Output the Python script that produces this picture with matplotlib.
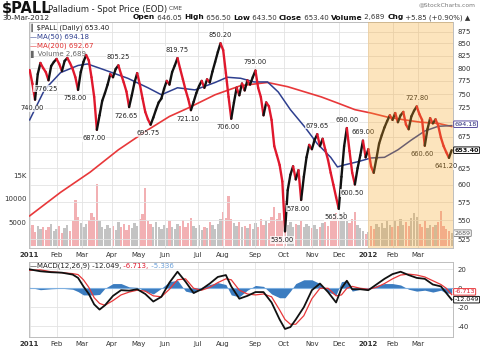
import numpy as np
import matplotlib
matplotlib.use("Agg")
import matplotlib.pyplot as plt
from matplotlib.collections import LineCollection

plt.rcParams["font.family"] = ["DejaVu Sans"]

# ── $PALL daily, one reading every second session (3-Jan-2011 .. 30-Mar-2012) ──
CLOSE = [
    796, 770, 740, 788, 810, 800, 792, 776.25, 804, 812,
    818, 808, 794, 814, 820, 810, 798, 782, 758, 792,
    812, 826, 815, 782, 745, 687, 712, 738, 752, 768,
    788, 782, 798, 805.25, 788, 772, 755, 726.65, 748, 772,
    790, 768, 742, 718, 705, 695.75, 708, 722, 735, 742,
    760, 775, 768, 792, 805, 819.75, 798, 778, 758, 741,
    721.10, 736, 752, 765, 775, 762, 778, 772, 793, 812,
    832, 850.20, 836, 790, 745, 706.00, 735, 762, 748, 770,
    757, 776, 768, 782, 795.00, 762, 745, 712, 735, 728,
    704, 660, 645, 630, 605, 535.00, 592, 615, 628, 608,
    622, 578.00, 612, 642, 662, 655, 670, 679.65, 660, 672,
    654, 638, 618, 600, 582, 565.50, 612, 660, 690.00, 652,
    618, 600.50, 625, 645, 669.00, 642, 655, 628, 618, 640,
    664, 678, 691, 702, 712, 704, 716, 700, 712, 718,
    696, 688, 710, 720, 727.80, 714, 704, 660.60, 688, 707,
    698, 705, 694, 674, 660, 650, 641.20, 653.40,
]
VOLUME = [
    3800, 4500, 2900, 4200, 3600, 4100, 3300, 3900, 4600, 3200,
    3500, 4300, 2800, 3700, 4400, 3100, 5200, 9700, 6200, 4800,
    3900, 4600, 5400, 7000, 6100, 13100, 5300, 4100, 3600, 4400,
    3800, 4200, 3300, 5100, 3900, 4700, 3400, 4500, 3700, 4900,
    4300, 5600, 6800, 12300, 5200, 4600, 3900, 5000, 4100, 3600,
    4400, 3800, 5200, 4000, 3500, 4600, 4300, 5400, 3900, 4800,
    6000, 4200, 3700, 4500, 3400, 4100, 3800, 5000, 4400, 3600,
    4700, 5800, 7200, 6000, 10500, 5600, 4800, 4200, 5100, 3900,
    4300, 3700, 4600, 3500, 4900, 4000, 5700, 4400, 5300, 4800,
    6200, 8200, 5600, 6900, 5200, 9500, 4500, 5000, 4100, 4700,
    4400, 5300, 3900, 4600, 4200, 3800, 4500, 3600, 4100, 4800,
    5000, 4300, 5400, 6100, 7000, 5500, 6400, 7200, 5800, 4900,
    5600, 7100, 4500, 3800, 3200, 2600, 3000, 4200, 3600, 4600,
    4000, 4800, 3700, 5200, 4400, 3900, 5300, 4200, 5800, 4500,
    5000, 4300, 5900, 7000, 6200, 4700, 4100, 5200, 3800, 4400,
    3900, 4500, 5100, 7500, 4200, 3600, 3100, 2689,
]

MA50_IDX = [0, 11, 23, 36, 43, 56, 73, 88, 98, 110, 123, 138, 147, 157, 167,
            177, 185, 194, 205, 214, 224, 229, 234, 244, 254, 264, 274, 284,
            294, 304, 314]
MA50 = [704, 758, 791, 805, 808, 796, 780, 762, 749, 762, 758, 772, 782, 780,
        773, 773, 754, 722, 691, 664, 642, 627, 630, 635, 641, 642, 654, 670,
        685, 693, 694.18]

MA200_IDX = [0, 23, 45, 66, 88, 104, 118, 138, 157, 177, 192, 217, 229, 242,
             254, 266, 279, 291, 304, 314]
MA200 = [555.8, 589, 619, 654, 687, 710, 725, 749, 766, 772, 764, 745, 734,
         722, 716, 709, 704, 700, 698, 692.67]

MACD_IDX = [0, 8, 16, 24, 32, 36, 40, 44, 48, 52, 56, 62, 68, 74, 80, 86, 92,
            98, 104, 110, 116, 122, 128, 134, 140, 146, 150, 156, 162, 168,
            174, 180, 186, 190, 194, 198, 204, 210, 216, 222, 228, 232, 236,
            240, 246, 252, 258, 264, 270, 276, 282, 288, 294, 300, 306, 310,
            314]
MACD_LINE = [20, 18, 17, 16.5, 14.5, 11, 2, -6, -17, -22.5, -18, -8, -2, -2.5,
             -1, -6, -14, -9, 6, 17.5, 7, -5, -1, 5, 12, 14, 2, -11, -8, -4,
             -4, -15, -33, -43, -41, -33, -20, -2, 5, -4, -15, 0, 8, -1, -1,
             -2, 4, 10, 15, 17.5, 14, 11, 10, 4, 2, -5, -12.049]
MACD_SIGNAL = [19, 19.5, 17.5, 16.5, 15.5, 14.5, 9, 1, -10, -16, -18, -13, -7,
               -4, -2, -3, -8, -9, -1, 9, 10, 0, -2, 1, 6, 10, 9, -2, -6, -7,
               -6, -9, -23, -33, -38, -38, -29, -11, 0, 0, -8, -7, 0, 2, 0,
               -1, 1, 5, 10, 14, 15, 14, 12, 8, 4, 0, -6.713]

HIGH_LABELS = [805.25, 819.75, 850.20, 795.00, 679.65, 690.00, 669.00, 727.80]
LOW_LABELS = [740.00, 776.25, 758.00, 687.00, 726.65, 695.75, 721.10, 706.00,
              535.00, 578.00, 565.50, 600.50, 660.60, 641.20]

MONTH_IDX = [0, 20, 39, 61, 81, 101, 125, 144, 168, 189, 210, 230, 252, 270, 289]
MONTH_LABELS = ["2011", "Feb", "Mar", "Apr", "May", "Jun", "Jul", "Aug", "Sep",
                "Oct", "Nov", "Dec", "2012", "Feb", "Mar"]
PRICE_TICKS = [525, 550, 575, 600, 625, 650, 675, 700, 725, 750, 775, 800,
               825, 850, 875]
PRICE_TICKS_UNDER_TAGS = [650, 700]     # covered by the close / MA(50) tags
VOL_TICKS = [5000, 10000, 15000]
VOL_TICK_LABELS = ["5000", "10000", "15K"]
MACD_TICKS = [20, 0, -20, -40]

YEAR_START = 251.5      # first session of 2012

RED = "#e0182d"
BLUE = "#2e3f8f"
GRID = "#e3e3e3"
FRAME = "#bdbdbd"
TXT = "#333333"

W, H = 480, 350
fig = plt.figure(figsize=(W / 100, H / 100), dpi=100)
fig.patch.set_facecolor("white")


def rect(l, t, r, b):
    return [l / W, 1 - b / H, (r - l) / W, (b - t) / H]


def right_tag(axis, value, text, ec, color, dy=0, weight="normal", z=20):
    axis.annotate(text, xy=(1, value), xycoords=("axes fraction", "data"),
                  xytext=(1, dy), textcoords="offset points", va="center",
                  ha="left", fontsize=4.6, fontweight=weight, color=color,
                  annotation_clip=False, zorder=z,
                  bbox=dict(boxstyle="round,pad=0.12", fc="white", ec=ec, lw=0.7))


x = np.arange(len(CLOSE)) * 2
close = np.array(CLOSE)
up = np.r_[True, close[1:] >= close[:-1]]
XL = (-0.5, 315)

# ── volume (bottom layer) ──
vax = fig.add_axes(rect(29, 22, 453, 248))
vax.set_xlim(XL)
vax.set_ylim(-470, 47620)
vax.bar(x, VOLUME, width=1.7, linewidth=0, alpha=0.85,
        color=["#b9b9b9" if u else "#f0a3a6" for u in up])
vax.set_yticks(VOL_TICKS)
vax.set_yticklabels(VOL_TICK_LABELS)
vax.tick_params(axis="y", length=0, labelsize=5, labelcolor=TXT, pad=2)
vax.set_xticks([])
for s in vax.spines.values():
    s.set_visible(False)
right_tag(vax, VOLUME[-1], f"{VOLUME[-1]}", "#888888", "#555555")

# ── price panel ──
ax = fig.add_axes(rect(29, 22, 453, 248))
ax.set_zorder(vax.get_zorder() + 1)
ax.patch.set_visible(False)
ax.set_yscale("log")
ax.set_xlim(XL)
ax.set_ylim(513.5, 896)
ax.yaxis.tick_right()
ax.set_yticks(PRICE_TICKS)
ax.set_yticklabels(["" if t in PRICE_TICKS_UNDER_TAGS else str(t)
                    for t in PRICE_TICKS])
ax.yaxis.set_minor_locator(plt.NullLocator())
ax.set_xticks(MONTH_IDX)
ax.set_xticklabels(MONTH_LABELS)
for lbl, name in zip(ax.get_xticklabels(), MONTH_LABELS):
    if name.isdigit():
        lbl.set_fontweight("bold")
ax.tick_params(length=0, labelsize=5, labelcolor=TXT, pad=3)
ax.grid(True, color=GRID, lw=0.6)
ax.set_axisbelow(True)
for s in ax.spines.values():
    s.set_color(FRAME)
    s.set_linewidth(0.7)

ax.plot(MA200_IDX, MA200, color="#e8383a", lw=1.2, zorder=3)
ax.plot(MA50_IDX, MA50, color=BLUE, lw=1.1, zorder=3)

pts = np.column_stack([x, close])
segs = np.stack([pts[:-1], pts[1:]], axis=1)
lc = LineCollection(segs, colors=["#111111" if u else RED for u in up[1:]],
                    linewidths=1.7, zorder=4, capstyle="round")
ax.add_collection(lc)

lab_kw = dict(textcoords="offset points", ha="center", fontsize=4.8,
              color="#222222", zorder=5,
              bbox=dict(boxstyle="square,pad=0.1", fc="white", ec="none", alpha=0.75))
for v in HIGH_LABELS:
    i = CLOSE.index(v)
    ax.annotate(f"{v:.2f}", (x[i], v), xytext=(0, 4), va="bottom", **lab_kw)
for v in LOW_LABELS:
    i = CLOSE.index(v)
    ax.annotate(f"{v:.2f}", (x[i], v), xytext=(-2, -4), va="top", **lab_kw)

ax.axvspan(YEAR_START, XL[1], facecolor="#f8a826", alpha=0.3, lw=0, zorder=8)

right_tag(ax, MA50[-1], f"{MA50[-1]:.2f}", "#5a4fa0", "#2a2a7a", dy=1)
right_tag(ax, CLOSE[-1], f"{CLOSE[-1]:.2f}", "#111111", "#111111", weight="bold")

# legend block, top left of the price panel
leg = [
    ("\u2503 $PALL (Daily) 653.40", "#222222"),
    ("\u2014MA(50) 694.18", BLUE),
    ("\u2014MA(200) 692.67", "#e03030"),
    ("\u258c Volume 2,689", "#666666"),
]
for k, (t, c) in enumerate(leg):
    fig.text(30 / W, 1 - (28 + 8.7 * k) / H, t, fontsize=5, color=c,
             va="center", ha="left", zorder=30)

# ── MACD panel ──
mx = fig.add_axes(rect(29, 262, 453, 337))
mx.set_xlim(XL)
mx.set_ylim(-51.5, 27.8)
mline = np.array(MACD_LINE)
msig = np.array(MACD_SIGNAL)
hist = mline - msig
mx.fill_between(MACD_IDX, 0, hist, color="#3b7cc0", lw=0, zorder=2)
mx.axhline(0, color="#7fb0e0", lw=0.8, zorder=2)
mx.plot(MACD_IDX, msig, color="#e8383a", lw=0.9, zorder=3)
mx.plot(MACD_IDX, mline, color="#111111", lw=1.3, zorder=4)
mx.yaxis.tick_right()
mx.set_yticks(MACD_TICKS)
mx.set_yticklabels([str(t) for t in MACD_TICKS])
mx.set_xticks(MONTH_IDX)
mx.set_xticklabels(MONTH_LABELS)
for lbl, name in zip(mx.get_xticklabels(), MONTH_LABELS):
    if name.isdigit():
        lbl.set_fontweight("bold")
mx.tick_params(length=0, labelsize=5, labelcolor=TXT, pad=3)
mx.grid(True, color=GRID, lw=0.6)
mx.set_axisbelow(True)
for s in mx.spines.values():
    s.set_color(FRAME)
    s.set_linewidth(0.7)

right_tag(mx, MACD_SIGNAL[-1], f"{MACD_SIGNAL[-1]:.3f}", "#e8383a", RED, dy=2)
right_tag(mx, MACD_LINE[-1], f"{MACD_LINE[-1]:.3f}", "#111111", "#111111", z=21)

t0 = fig.text(30 / W, 1 - 266 / H, f"\u2014MACD(12,26,9) {MACD_LINE[-1]:.3f},",
              fontsize=5, color="#222222", va="center", ha="left")
t1 = plt.annotate(f" {MACD_SIGNAL[-1]:.3f},", xy=(1, 0.5), xycoords=t0,
                  va="center", ha="left", fontsize=5, color=RED)
plt.annotate(f" {hist[-1]:.3f}", xy=(1, 0.5), xycoords=t1,
             va="center", ha="left", fontsize=5, color="#6a9fd8")

# ── header ──
fig.text(2 / W, 1 - 8.5 / H, "$PALL", fontsize=10.5, fontweight="bold",
         va="center", ha="left", color="#111111")
title = fig.text(48 / W, 1 - 9 / H, "Palladium - Spot Price (EOD)", fontsize=6,
                 va="center", ha="left", color="#222222")
plt.annotate(" CME", xy=(1, 0.5), xycoords=title, va="center", ha="left",
             fontsize=4.3, color="#444444")
fig.text(476 / W, 1 - 5 / H, "@StockCharts.com", fontsize=4.3, va="center",
         ha="right", color="#777777")
fig.text(2 / W, 1 - 17.5 / H, "30-Mar-2012", fontsize=5.3, va="center",
         ha="left", color="#222222")

quote = [("Open", True), (" 646.05 ", False), ("High", True), (" 656.50 ", False),
         ("Low", True), (" 643.50 ", False), ("Close", True), (" 653.40 ", False),
         ("Volume", True), (" 2,689 ", False), ("Chg", True),
         (" +5.85 (+0.90%) \u25b2", False)]
prev = fig.text(133 / W, 1 - 17.5 / H, "", fontsize=5, va="center", ha="left")
for t, bold in quote:
    prev = plt.annotate(t, xy=(1, 0.5), xycoords=prev, va="center", ha="left",
                        fontsize=5.4 if bold else 5,
                        fontweight="bold" if bold else "normal",
                        color="#111111" if bold else "#333333")

fig.savefig("out.png", dpi=100)
